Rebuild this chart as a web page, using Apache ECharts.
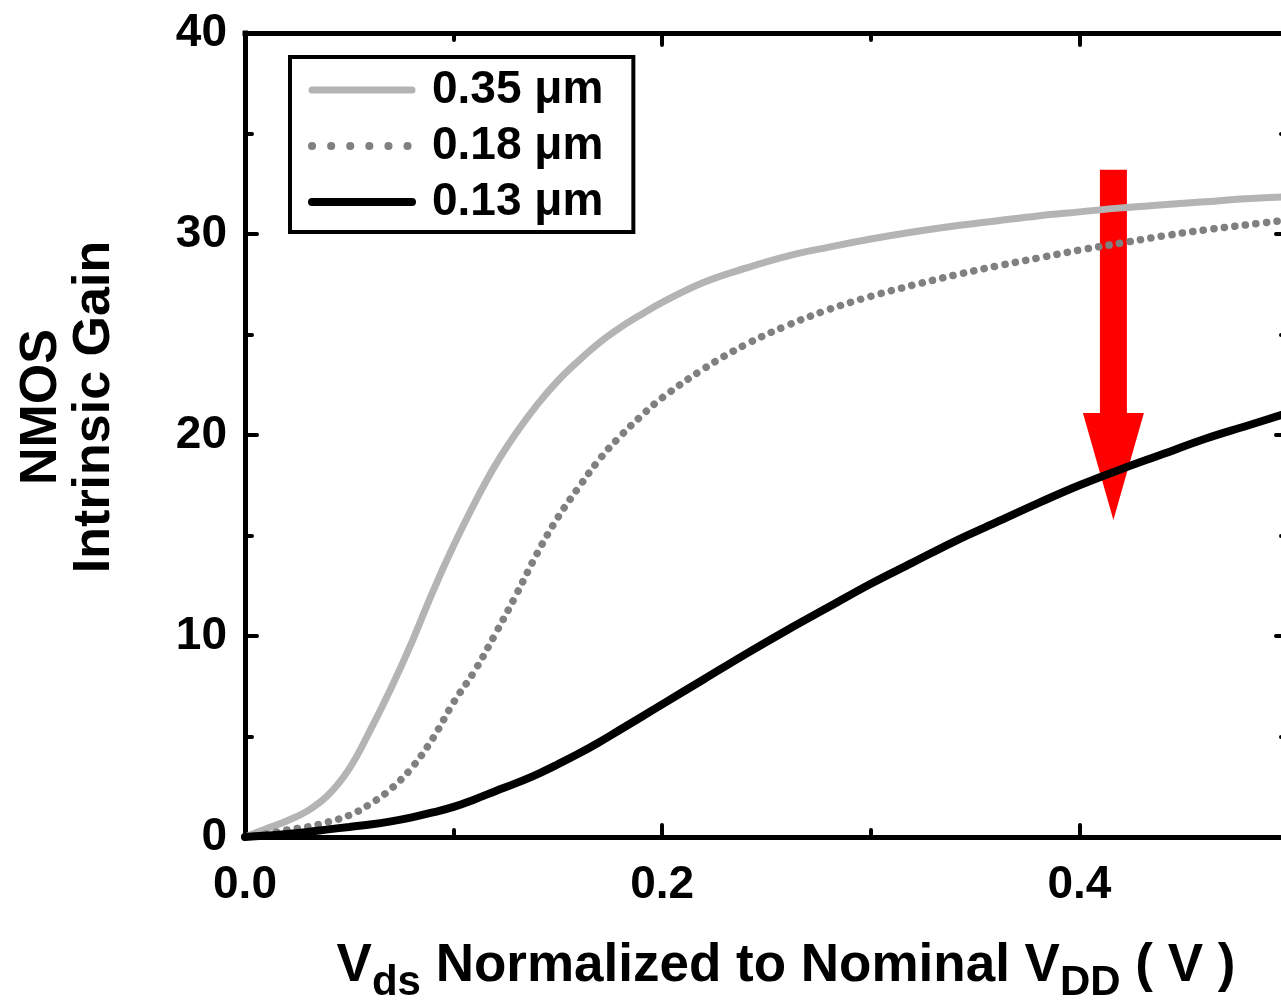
<!DOCTYPE html>
<html>
<head>
<meta charset="utf-8">
<script src="https://cdn.jsdelivr.net/npm/echarts@6/dist/echarts.min.js"></script>
<style>
  html, body { margin: 0; padding: 0; background: #fff; overflow: hidden; }
  #chart { width: 1296px; height: 1000px; }
</style>
</head>
<body>
<div id="chart"></div>
<script>
// Normalized drain-source voltage (x) for every curve
const vds = [0, 0.01, 0.02, 0.03, 0.04, 0.05, 0.06, 0.07, 0.08, 0.09, 0.10,
             0.11, 0.12, 0.13, 0.14, 0.15, 0.16, 0.17, 0.18, 0.19, 0.20,
             0.22, 0.24, 0.26, 0.28, 0.30, 0.32, 0.34, 0.36, 0.38, 0.40,
             0.42, 0.44, 0.46, 0.48, 0.50];

// Intrinsic gain per technology node
const gain035 = [0, 0.4, 0.8, 1.3, 2.1, 3.4, 5.3, 7.4, 9.7, 12.2, 14.5,
                 16.6, 18.5, 20.1, 21.5, 22.7, 23.7, 24.6, 25.35, 26.0, 26.6,
                 27.6, 28.3, 28.9, 29.35, 29.75, 30.1, 30.4, 30.65, 30.9, 31.1,
                 31.3, 31.45, 31.6, 31.75, 31.85];
const gain018 = [0, 0.15, 0.35, 0.5, 0.75, 1.08, 1.64, 2.4, 3.45, 4.9, 6.7,
                 8.25, 10.1, 12.05, 14.1, 15.9, 17.4, 18.8, 19.95, 20.95, 21.85,
                 23.3, 24.5, 25.45, 26.25, 26.9, 27.45, 27.95, 28.4, 28.8, 29.2,
                 29.55, 29.9, 30.2, 30.45, 30.7];
const gain013 = [0, 0.07, 0.15, 0.25, 0.38, 0.5, 0.62, 0.78, 0.98, 1.22, 1.5,
                 1.87, 2.28, 2.68, 3.12, 3.62, 4.15, 4.73, 5.35, 5.97, 6.6,
                 7.85, 9.1, 10.3, 11.45, 12.6, 13.65, 14.7, 15.65, 16.6, 17.5,
                 18.3, 19.05, 19.8, 20.45, 21.1];

const seriesNames = ['0.35 \u03bcm', '0.18 \u03bcm', '0.13 \u03bcm'];

// Downward trend arrow: [x, shaft top, head base, tip]
const trendArrow = [[0.4163, 33.2, 21.1, 15.77]];

// Axis ranges and ticks
const xMin = 0, xMax = 0.5, xMajor = 0.2, xMinor = 0.1;
const yMin = 0, yMax = 40, yMajor = 10;

const FONT = "'Liberation Sans', Arial, Helvetica, sans-serif";

function pairs(xs, ys) { return xs.map((x, i) => [x, ys[i]]); }

const axisLineStyle = { show: true, onZero: false, lineStyle: { color: '#000', width: 5, cap: 'square' } };
const tickStyle = { color: '#000', width: 4, cap: 'round' };

function xAxisDef(position, interval, tickLen, withLine, withLabels) {
  return {
    type: 'value', position: position, min: xMin, max: xMax, interval: interval,
    axisLine: withLine ? axisLineStyle : { show: false, onZero: false },
    axisTick: { show: true, inside: true, length: tickLen, lineStyle: tickStyle },
    axisLabel: withLabels ? {
      show: true, margin: 25, color: '#000', fontFamily: FONT, fontWeight: 'bold', fontSize: 46,
      showMaxLabel: false, formatter: v => v.toFixed(1)
    } : { show: false },
    splitLine: { show: false }
  };
}

function yAxisDef(position, withLabels) {
  return {
    type: 'value', position: position, min: yMin, max: yMax, interval: yMajor,
    axisLine: axisLineStyle,
    axisTick: { show: true, inside: true, length: 12, lineStyle: tickStyle },
    minorTick: { show: true, splitNumber: 2, length: 7, lineStyle: tickStyle },
    axisLabel: withLabels ? {
      show: true, margin: 18, color: '#000', fontFamily: FONT, fontWeight: 'bold', fontSize: 46
    } : { show: false },
    splitLine: { show: false }
  };
}

const chart = echarts.init(document.getElementById('chart'), null, { renderer: 'canvas' });

chart.setOption({
  animation: false,
  backgroundColor: '#fff',
  grid: { left: 245, top: 33, width: 1043, height: 804, containLabel: false },
  xAxis: [
    xAxisDef('bottom', xMajor, 12, true, true),
    xAxisDef('bottom', xMinor, 7, false, false),
    xAxisDef('top', xMajor, 12, true, false),
    xAxisDef('top', xMinor, 7, false, false)
  ],
  yAxis: [
    yAxisDef('left', true),
    yAxisDef('right', false)
  ],
  legend: {
    orient: 'vertical', left: 290, top: 57,
    itemWidth: 100, itemHeight: 16, itemGap: 10,
    borderColor: '#000', borderWidth: 4, borderRadius: 0,
    padding: [10, 30, 7, 18],
    itemStyle: { opacity: 0 },
    textStyle: {
      color: '#000', fontFamily: FONT, fontWeight: 'bold', fontSize: 46,
      lineHeight: 46, padding: [0, 0, 0, 15]
    },
    data: [
      { name: seriesNames[0], lineStyle: { width: 7, cap: 'round' } },
      { name: seriesNames[1], lineStyle: { type: [0.1, 19], cap: 'round', width: 8 } },
      { name: seriesNames[2], lineStyle: { width: 8, cap: 'round' } }
    ]
  },
  graphic: [
    {
      type: 'text', x: 68, y: 407, rotation: Math.PI / 2,
      style: {
        text: 'NMOS\nIntrinsic Gain', fill: '#000',
        font: 'bold 52px ' + FONT, lineHeight: 53,
        align: 'center', verticalAlign: 'middle'
      }
    },
    {
      type: 'text', x: 786, y: 940,
      style: {
        text: '{m|V}{s|ds}{m| Normalized to Nominal V}{s|DD}{m| ( V )}',
        align: 'center', verticalAlign: 'top', fill: '#000',
        rich: {
          m: { fontFamily: FONT, fontWeight: 'bold', fontSize: 53, lineHeight: 53, verticalAlign: 'top', fill: '#000' },
          s: { fontFamily: FONT, fontWeight: 'bold', fontSize: 42, lineHeight: 64, verticalAlign: 'bottom', fill: '#000' }
        }
      }
    }
  ],
  series: [
    {
      type: 'custom', name: 'trend', z: 1, xAxisIndex: 0, yAxisIndex: 0,
      encode: { x: 0, y: [1, 2, 3] },
      data: trendArrow,
      renderItem: function (params, api) {
        const top = api.coord([api.value(0), api.value(1)]);
        const neck = api.coord([api.value(0), api.value(2)]);
        const tip = api.coord([api.value(0), api.value(3)]);
        const shaft = 13.5, head = 30.5;
        return {
          type: 'polygon',
          shape: { points: [
            [top[0] - shaft, top[1]], [top[0] + shaft, top[1]],
            [neck[0] + shaft, neck[1]], [neck[0] + head, neck[1]],
            [tip[0], tip[1]],
            [neck[0] - head, neck[1]], [neck[0] - shaft, neck[1]]
          ] },
          style: { fill: '#ff0000' }
        };
      }
    },
    {
      type: 'line', name: seriesNames[0], z: 3, xAxisIndex: 0, yAxisIndex: 0,
      data: pairs(vds, gain035), symbol: 'none', smooth: 0.4,
      lineStyle: { color: '#b4b4b4', width: 7, cap: 'round' },
      itemStyle: { color: '#b4b4b4' }
    },
    {
      type: 'line', name: seriesNames[1], z: 3, xAxisIndex: 0, yAxisIndex: 0,
      data: pairs(vds, gain018), symbol: 'none', smooth: 0.4,
      lineStyle: { color: '#808080', width: 7.5, type: [0.1, 10.5], cap: 'round' },
      itemStyle: { color: '#808080' }
    },
    {
      type: 'line', name: seriesNames[2], z: 3, xAxisIndex: 0, yAxisIndex: 0,
      data: pairs(vds, gain013), symbol: 'none', smooth: 0.4,
      lineStyle: { color: '#000', width: 8, cap: 'round' },
      itemStyle: { color: '#000' }
    }
  ]
});
</script>
</body>
</html>
